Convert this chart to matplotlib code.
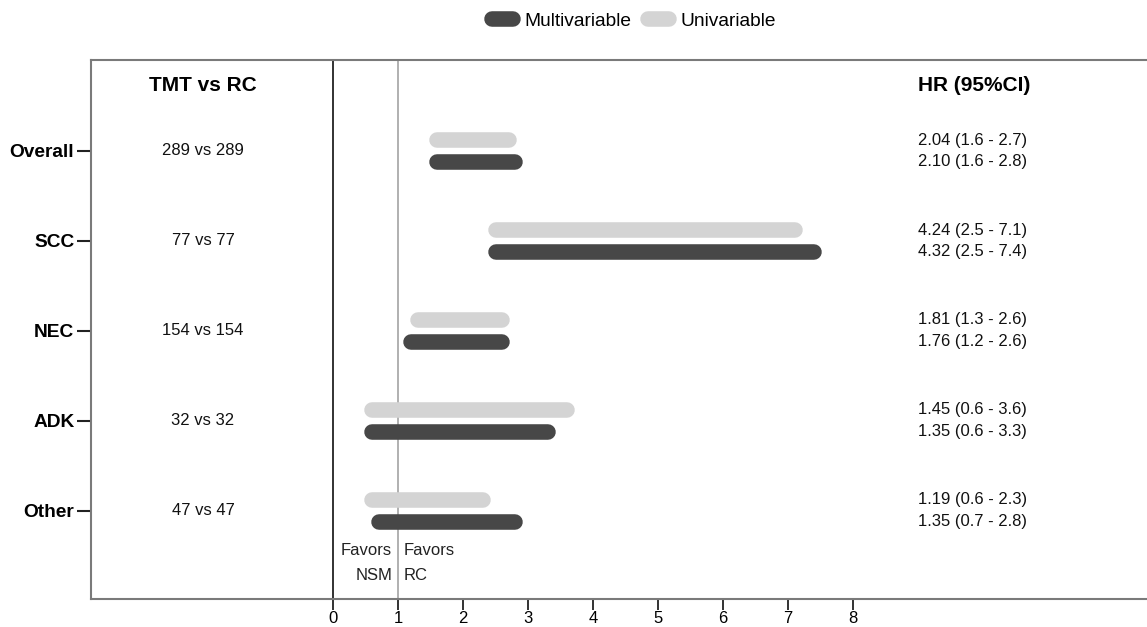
import matplotlib
matplotlib.use('Agg')
import matplotlib.pyplot as plt
from matplotlib.lines import Line2D

plt.rcParams['font.family'] = ['Liberation Sans', 'DejaVu Sans']

# --- data ---
categories = ['Overall', 'SCC', 'NEC', 'ADK', 'Other']
counts = ['289 vs 289', '77 vs 77', '154 vs 154', '32 vs 32', '47 vs 47']

uni_hr = [2.04, 4.24, 1.81, 1.45, 1.19]
uni_lo = [1.6, 2.5, 1.3, 0.6, 0.6]
uni_hi = [2.7, 7.1, 2.6, 3.6, 2.3]

multi_hr = [2.10, 4.32, 1.76, 1.35, 1.35]
multi_lo = [1.6, 2.5, 1.2, 0.6, 0.7]
multi_hi = [2.8, 7.4, 2.6, 3.3, 2.8]

xticks = [0, 1, 2, 3, 4, 5, 6, 7, 8]

DARK = '#474747'
LIGHT = '#d4d4d4'
SPINE = '#7a7a7a'
BAR_LW = 11.2
OFF = 0.122

fig = plt.figure(figsize=(11.47, 6.27), dpi=100)
ax = fig.add_axes([0.0793, 0.0447, 0.9207, 0.8596])

ypos = list(range(len(categories)))

for i in ypos:
    ax.hlines(i - OFF, uni_lo[i], uni_hi[i], color=LIGHT, lw=BAR_LW,
              capstyle='round', zorder=3)
    ax.hlines(i + OFF, multi_lo[i], multi_hi[i], color=DARK, lw=BAR_LW,
              capstyle='round', zorder=3)
    ax.text(-2.0, i, counts[i], ha='center', va='center', fontsize=12, color='#111111')
    ax.text(9.0, i - OFF, f'{uni_hr[i]:.2f} ({uni_lo[i]} - {uni_hi[i]})',
            ha='left', va='center', fontsize=12, color='#111111')
    ax.text(9.0, i + OFF, f'{multi_hr[i]:.2f} ({multi_lo[i]} - {multi_hi[i]})',
            ha='left', va='center', fontsize=12, color='#111111')

# reference lines
ax.axvline(0, color='#222222', lw=1.3, zorder=2)
ax.axvline(1, color='#aaaaaa', lw=1.3, zorder=2)

# headers
ax.text(-2.0, -0.733, 'TMT vs RC', ha='center', va='center', fontsize=15, fontweight='bold')
ax.text(9.0, -0.733, 'HR (95%CI)', ha='left', va='center', fontsize=15, fontweight='bold')

# favors labels
ax.text(0.91, 4.44, 'Favors', ha='right', va='center', fontsize=12, color='#222222')
ax.text(0.91, 4.72, 'NSM', ha='right', va='center', fontsize=12, color='#222222')
ax.text(1.09, 4.44, 'Favors', ha='left', va='center', fontsize=12, color='#222222')
ax.text(1.09, 4.72, 'RC', ha='left', va='center', fontsize=12, color='#222222')

ax.set_xlim(-3.723, 12.52)
ax.set_ylim(4.978, -1.011)

ax.set_yticks(ypos)
ax.set_yticklabels(categories, fontsize=13.8, fontweight='bold')
ax.set_xticks(xticks)
ax.set_xticklabels([str(t) for t in xticks], fontsize=12)
ax.tick_params(axis='y', length=10, width=1.5, color='#222222', pad=2)
ax.tick_params(axis='x', length=8, width=1.3, color='#222222', pad=1)

ax.spines['right'].set_visible(False)
for s in ['left', 'top', 'bottom']:
    ax.spines[s].set_color(SPINE)
    ax.spines[s].set_linewidth(1.5)

handles = [Line2D([0], [0], color=DARK, lw=BAR_LW, solid_capstyle='round'),
           Line2D([0], [0], color=LIGHT, lw=BAR_LW, solid_capstyle='round')]
fig.legend(handles, ['Multivariable', 'Univariable'], loc='center',
           bbox_to_anchor=(634 / 1147, 1 - 21 / 627), ncol=2, frameon=False,
           fontsize=13.8, handlelength=1.07, handletextpad=0.6, columnspacing=0.9)

fig.savefig('out.png', dpi=100)
